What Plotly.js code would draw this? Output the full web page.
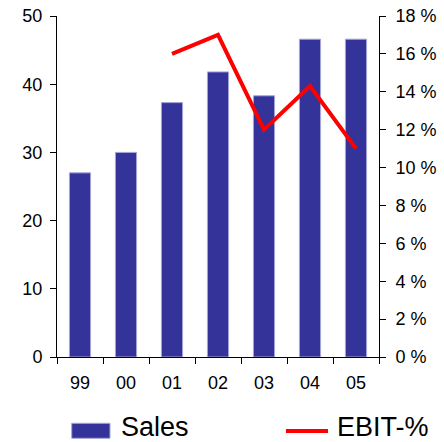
<!DOCTYPE html>
<html>
<head>
<meta charset="utf-8">
<script src="https://cdn.plot.ly/plotly-3.0.1.min.js"></script>
<style>html,body{margin:0;padding:0;background:#fff;}#chart{width:444px;height:442px;}</style>
</head>
<body>
<div id="chart"></div>
<script>
var years = ["99", "00", "01", "02", "03", "04", "05"];
var sales = [27.0, 30.0, 37.3, 41.8, 38.3, 46.6, 46.6];
var ebitPct = [null, null, 16.0, 17.0, 12.0, 14.3, 11.0];
var salesTicks = [0, 10, 20, 30, 40, 50];
var ebitTicks = [0, 2, 4, 6, 8, 10, 12, 14, 16, 18];
var ebitTickText = ebitTicks.map(function (v) { return v + " %"; });

var FONT = "Liberation Sans, Arial, sans-serif";

var traces = [
  {
    type: "bar", name: "Sales", x: years, y: sales,
    marker: { color: "#333399", line: { color: "#a6a6d8", width: 1 } },
    showlegend: false, hoverinfo: "skip"
  },
  {
    type: "scatter", mode: "lines", name: "EBIT-%", x: years, y: ebitPct,
    yaxis: "y2", line: { color: "#ff0000", width: 4 },
    showlegend: false, hoverinfo: "skip"
  }
];

var layout = {
  width: 444, height: 442,
  margin: { l: 57, r: 65, t: 16, b: 85 },
  paper_bgcolor: "#ffffff", plot_bgcolor: "#ffffff",
  font: { family: FONT, size: 18, color: "#000000" },
  bargap: 0.54,
  showlegend: false,
  xaxis: {
    type: "category", showgrid: false, zeroline: false,
    showline: true, linecolor: "#000000", linewidth: 1,
    ticks: "outside", ticklen: 6, tickcolor: "#000000", tickwidth: 1,
    tickson: "boundaries",
    tickfont: { family: FONT, size: 18, color: "#000000" },
    ticklabelstandoff: 9
  },
  yaxis: {
    range: [0, 50], tickvals: salesTicks, showgrid: false, zeroline: false,
    showline: true, linecolor: "#000000", linewidth: 1,
    ticks: "outside", ticklen: 6, tickcolor: "#000000", tickwidth: 1,
    tickfont: { family: FONT, size: 18, color: "#000000" },
    ticklabelstandoff: 4
  },
  yaxis2: {
    range: [0, 18], tickvals: ebitTicks, ticktext: ebitTickText,
    overlaying: "y", side: "right", showgrid: false, zeroline: false,
    showline: true, linecolor: "#000000", linewidth: 1,
    ticks: "outside", ticklen: 6, tickcolor: "#000000", tickwidth: 1,
    tickfont: { family: FONT, size: 18, color: "#000000" },
    ticklabelstandoff: 6
  },
  shapes: [
    { type: "rect", xref: "paper", yref: "paper", x0: 0.0457, x1: 0.1646, y0: -0.2384, y1: -0.1944,
      fillcolor: "#333399", line: { color: "#a6a6d8", width: 1 } },
    { type: "line", xref: "paper", yref: "paper", x0: 0.711, x1: 0.8416, y0: -0.217, y1: -0.217,
      line: { color: "#ff0000", width: 4 } }
  ],
  annotations: [
    { text: "Sales", xref: "paper", yref: "paper", x: 0.1925, y: -0.2545, xanchor: "left", yanchor: "bottom",
      showarrow: false, font: { family: FONT, size: 27, color: "#000000" } },
    { text: "EBIT-%", xref: "paper", yref: "paper", x: 0.8634, y: -0.2545, xanchor: "left", yanchor: "bottom",
      showarrow: false, font: { family: FONT, size: 27, color: "#000000" } }
  ]
};

Plotly.newPlot("chart", traces, layout, { staticPlot: true, displayModeBar: false });
</script>
</body>
</html>
